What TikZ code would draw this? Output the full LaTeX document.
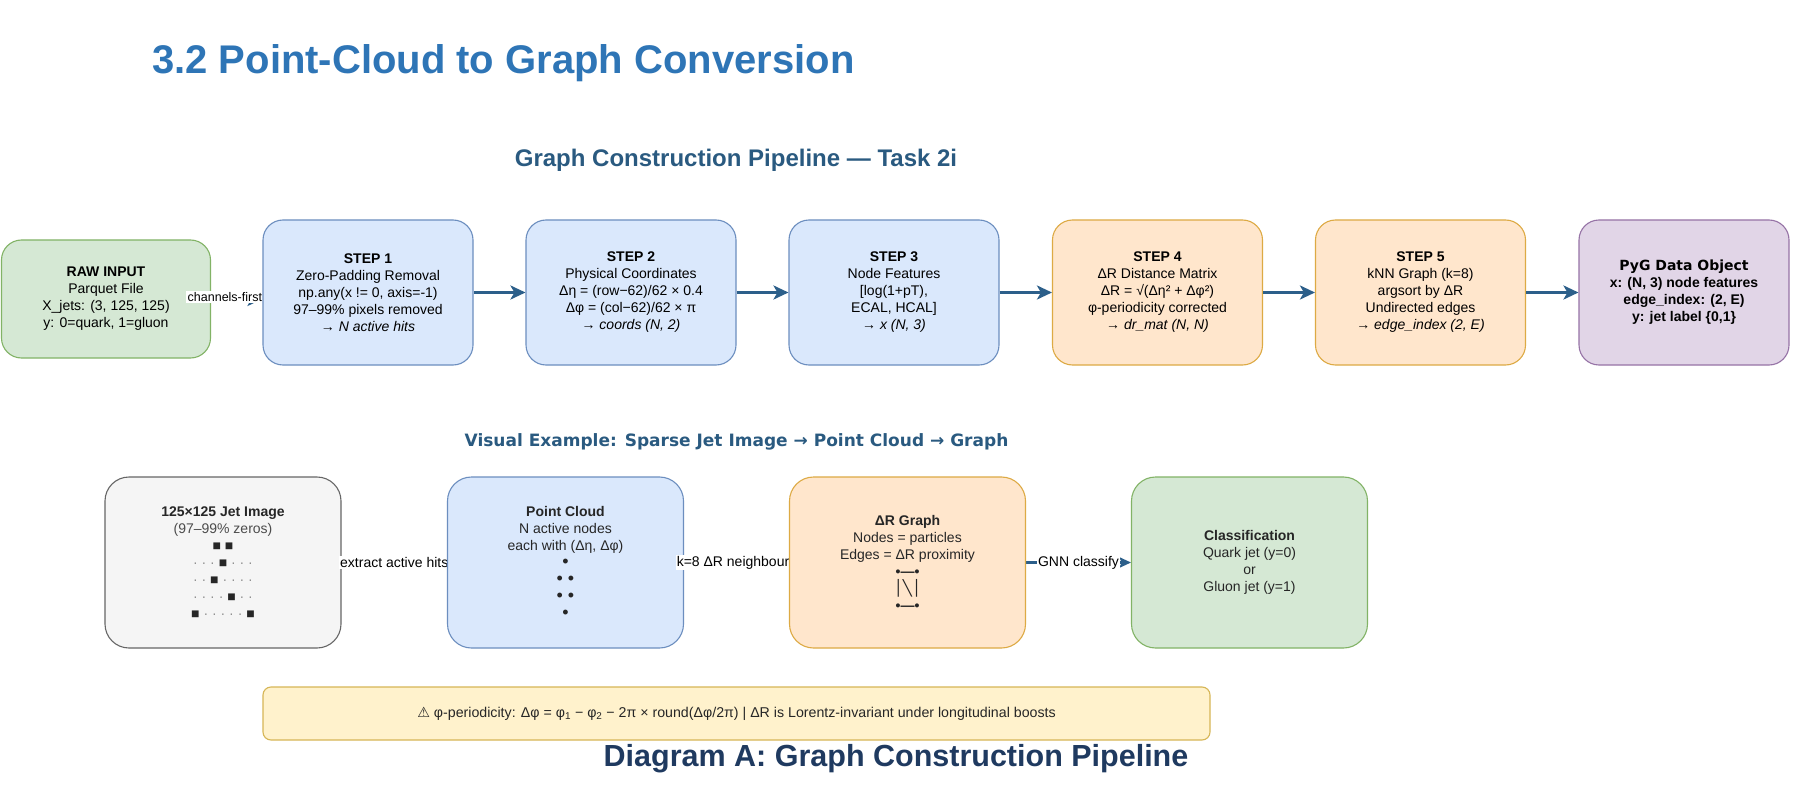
\documentclass[tikz,border=0pt]{standalone}
\usepackage{fontspec}
\setmainfont{Liberation Sans}
\newfontfamily\dejavu{DejaVu Sans}
\usetikzlibrary{arrows.meta}
\pgfdeclarelayer{layA}
\pgfdeclarelayer{layB}
\pgfdeclarelayer{layC}
\pgfdeclarelayer{layD}
\pgfsetlayers{layA,layB,layC,layD,main}
\definecolor{gfill}{HTML}{D5E8D4}\definecolor{gdraw}{HTML}{82B366}
\definecolor{bfill}{HTML}{DAE8FC}\definecolor{bdraw}{HTML}{6C8EBF}
\definecolor{ofill}{HTML}{FFE6CC}\definecolor{odraw}{HTML}{DDAA44}
\definecolor{pfill}{HTML}{E1D5E7}\definecolor{pdraw}{HTML}{9673A6}
\definecolor{kfill}{HTML}{F5F5F5}\definecolor{kdraw}{HTML}{666666}
\definecolor{nfill}{HTML}{FFF2CC}\definecolor{ndraw}{HTML}{D6B656}
\definecolor{arrowc}{HTML}{2C5F8A}
\definecolor{titleblue}{HTML}{2E75B6}
\definecolor{subblue}{HTML}{2A5A80}
\definecolor{navy}{HTML}{1F3A60}
\newcommand{\jd}{{\color{black!45}·}}
\begin{document}
\begin{tikzpicture}[x=1pt,y=-1pt,
  box/.style={rounded corners=20pt, line width=1.1pt, align=center, inner sep=0pt,
    font=\fontsize{14}{17}\selectfont, text=black},
  topbox/.style={box, minimum width=210pt, minimum height=145pt},
  rawbox/.style={box, minimum width=209pt, minimum height=118pt},
  botbox/.style={box, minimum width=236pt, minimum height=171pt, rounded corners=24pt, text=black!85},
  greenbox/.style={fill=gfill, draw=gdraw},
  bluebox/.style={fill=bfill, draw=bdraw},
  orangebox/.style={fill=ofill, draw=odraw},
  purplebox/.style={fill=pfill, draw=pdraw},
  graybox/.style={fill=kfill, draw=kdraw},
  notebox/.style={fill=nfill, draw=ndraw, rounded corners=8pt, line width=1.1pt,
    minimum width=947pt, minimum height=53pt, font=\fontsize{14.2}{16}\selectfont, text=black!85},
  flow/.style={draw=arrowc, line width=3pt, -{Stealth[length=15pt,width=14pt,inset=4pt]}},
  flowthin/.style={draw=arrowc, line width=2.5pt, -{Stealth[length=12pt,width=11pt,inset=3pt]}},
  elabel/.style={fill=white, inner sep=1pt, text=black, font=\fontsize{14}{16}\selectfont},
  elabelsmall/.style={fill=white, inner sep=1.5pt, text=black, font=\fontsize{12.5}{14}\selectfont},
  heading/.style={inner sep=0pt, font=\bfseries}
]
\begin{pgfonlayer}{layA}
\fill[white] (0,0) rectangle (1795,810);
\node[rawbox, greenbox] (raw) at (106,299) {\textbf{RAW INPUT}\\Parquet File\\X\_jets: (3, 125, 125)\\y: 0=quark, 1=gluon};
\node[botbox, graybox] (jet) at (223,562.5) {\textbf{125×125 Jet Image}\\{\color{black!70}(97–99\% zeros)}\\
  {\fontsize{14}{17}\selectfont ■ ■}\\
  {\fontsize{14}{17}\selectfont \jd{} \jd{} \jd{} ■ \jd{} \jd{} \jd{}}\\
  {\fontsize{14}{17}\selectfont \jd{} \jd{} ■ \jd{} \jd{} \jd{} \jd{}}\\
  {\fontsize{14}{17}\selectfont \jd{} \jd{} \jd{} \jd{} ■ \jd{} \jd{}}\\
  {\fontsize{14}{17}\selectfont ■ \jd{} \jd{} \jd{} \jd{} \jd{} ■}};
\end{pgfonlayer}

\begin{pgfonlayer}{layC}
\node[topbox, bluebox] (s1) at (368,292.5) {\textbf{STEP 1}\\Zero-Padding Removal\\np.any(x != 0, axis=-1)\\97–99\% pixels removed\\→ \textit{N active hits}};
\node[topbox, bluebox] (s2) at (631,292.5) {\textbf{STEP 2}\\Physical Coordinates\\Δη = (row−62)/62 × 0.4\\Δφ = (col−62)/62 × π\\→ \textit{coords (N, 2)}};
\node[topbox, bluebox] (s3) at (894,292.5) {\textbf{STEP 3}\\Node Features\\{[}log(1+pT),\\ECAL, HCAL{]}\\→ \textit{x (N, 3)}};
\node[topbox, orangebox] (s4) at (1157.5,292.5) {\textbf{STEP 4}\\ΔR Distance Matrix\\ΔR = √(Δη² + Δφ²)\\φ-periodicity corrected\\→ \textit{dr\_mat (N, N)}};
\node[topbox, orangebox] (s5) at (1420.5,292.5) {\textbf{STEP 5}\\kNN Graph (k=8)\\argsort by ΔR\\Undirected edges\\→ \textit{edge\_index (2, E)}};
\node[topbox, purplebox] (pyg) at (1684,292.5) {{\dejavu\bfseries PyG Data Object}\\\textbf{x: (N, 3) node features}\\\textbf{edge\_index: (2, E)}\\\textbf{y: jet label \{0,1\}}};
\node[botbox, bluebox] (pc) at (565.5,562.5) {\textbf{Point Cloud}\\N active nodes\\each with (Δη, Δφ)\\{\fontsize{18}{17}\selectfont •}\\{\fontsize{18}{17}\selectfont • •}\\{\fontsize{18}{17}\selectfont • •}\\{\fontsize{18}{17}\selectfont •}};
\end{pgfonlayer}

\node[botbox, orangebox] (dr) at (907.5,562.5) {\textbf{ΔR Graph}\\Nodes = particles\\Edges = ΔR proximity\\\textbf{•—•}\\{\dejavu\fontsize{15}{17}\selectfont │╲│}\\\textbf{•—•}};
\node[botbox, greenbox] (cls) at (1249.5,562.5) {\textbf{Classification}\\Quark jet (y=0)\\or\\Gluon jet (y=1)};
\node[notebox] (note) at (736.5,713.5) {{\dejavu ⚠} φ-periodicity: Δφ = φ\textsubscript{1} − φ\textsubscript{2} − 2π × round(Δφ/2π) | ΔR is Lorentz-invariant under longitudinal boosts};

% titles
\node[heading, anchor=west, text=titleblue, font=\fontsize{40}{48}\selectfont\bfseries] (title) at (152,63) {3.2 Point-Cloud to Graph Conversion};
\node[heading, text=subblue, font=\fontsize{24}{28}\selectfont\bfseries] (sub) at (736,160) {Graph Construction Pipeline — Task 2i};
\node[heading, text=subblue, font=\dejavu\fontsize{17}{20}\selectfont\bfseries] (visual) at (736.5,442) {Visual Example: Sparse Jet Image → Point Cloud → Graph};
\node[heading, text=navy, font=\fontsize{30.5}{36}\selectfont\bfseries] (diag) at (896,759) {Diagram A: Graph Construction Pipeline};

% edges
\begin{pgfonlayer}{layB}
\draw[flow] (raw.east) -- (raw.east -| s1.west);
\node[elabelsmall, anchor=west] (lab1) at (186,297) {channels-first→};
\draw[flowthin] (jet.east) -- (pc.west) node[midway, elabel] (lab2) {extract active hits};
\end{pgfonlayer}
\begin{pgfonlayer}{layD}
\draw[flowthin] (pc.east) -- (dr.west) node[midway, elabel] (lab3) {k=8 ΔR neighbours};
\draw[flowthin] (dr.east) -- (cls.west) node[midway, elabel] (lab4) {GNN classify};
\draw[flow] (s1.east) -- (s2.west);
\draw[flow] (s2.east) -- (s3.west);
\draw[flow] (s3.east) -- (s4.west);
\draw[flow] (s4.east) -- (s5.west);
\draw[flow] (s5.east) -- (pyg.west);
\end{pgfonlayer}
\useasboundingbox (0,0) rectangle (1795,810);
\end{tikzpicture}
\end{document}
